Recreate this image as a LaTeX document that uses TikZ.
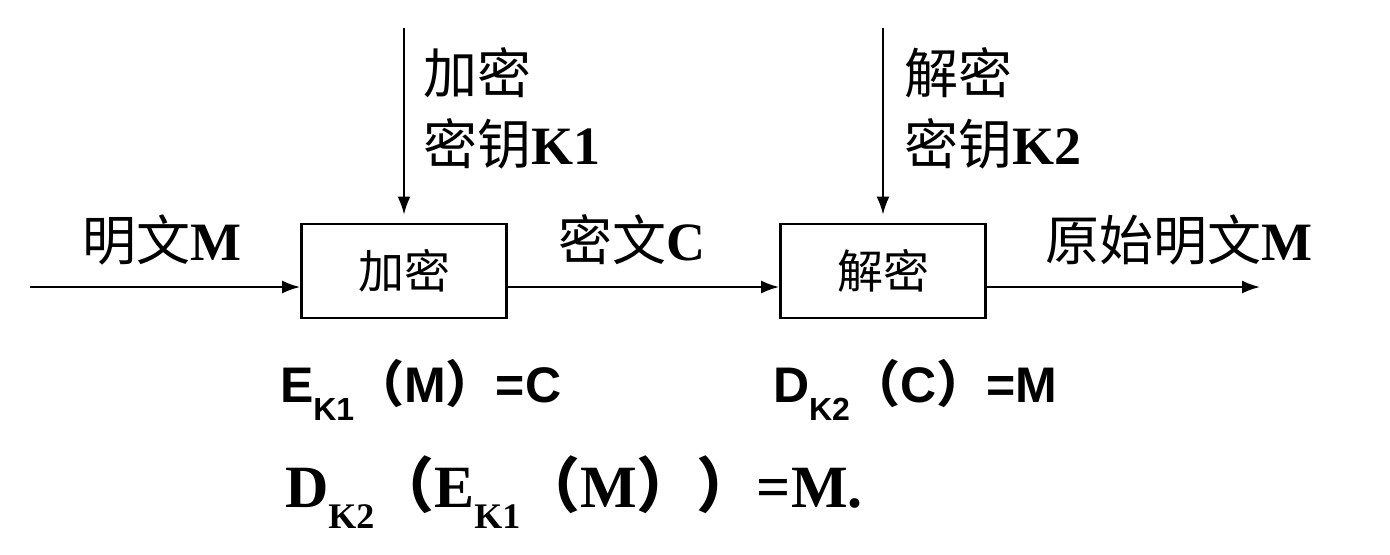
\documentclass[tikz,border=0pt]{standalone}
\usepackage{fontspec}
\setmainfont{Liberation Serif}
\newfontfamily\cjk{Noto Sans CJK SC}
\newfontfamily\eqsans{Liberation Sans}
\usetikzlibrary{arrows.meta}

% lowered index such as K1, K2
\newcommand{\lowtext}[2]{\raisebox{-0.35em}{\fontsize{#1}{#1}\selectfont #2}}
\newcommand{\lp}{{\cjk （}}
\newcommand{\rp}{{\cjk ）}}

\begin{document}
\begin{tikzpicture}[x=0.5pt, y=-0.5pt, line width=1pt, >={Latex[length=9pt,width=6.5pt]},
	box/.style = {draw, line width=1.4pt, minimum width=102.5pt, minimum height=47pt, inner sep=0pt, font=\cjk\fontsize{23}{23}\selectfont},
	lab/.style = {inner sep=0pt, align=left, font=\fontsize{27}{35.5}\selectfont},
	eqa/.style = {inner sep=0pt, font=\eqsans\bfseries\fontsize{25}{25}\selectfont},
	eqb/.style = {inner sep=0pt, font=\bfseries\fontsize{30}{30}\selectfont}]

		\useasboundingbox (0,0) rectangle (1390,554);

		% blocks
		\node[box] (enc) at (404,271) {加密};
		\node[box] (dec) at (883,271) {解密};

		\coordinate (in) at (30,287);
		\coordinate (out) at (1260,287);
		\coordinate (k1) at (404,28);
		\coordinate (k2) at (883,28);

		\draw[->] (in) -- (in -| enc.west);
		\draw[->] (enc.east |- in) -- (in -| dec.west);
		\draw[->] (dec.east |- in) -- (out);
		\draw[->] (k1) -- ([yshift=4pt]enc.north);
		\draw[->] (k2) -- ([yshift=4pt]dec.north);

		% labels
		\node[lab, anchor=north west] (key1) at (422,47) {{\cjk 加密}\\{\cjk 密钥}\textbf{K1}};
		\node[lab, anchor=north west] (key2) at (903,47) {{\cjk 解密}\\{\cjk 密钥}\textbf{K2}};
		\node[lab] (plain) at (162,240) {{\cjk 明文}\textbf{M}};
		\node[lab] (cipher) at (632,240) {{\cjk 密文}\textbf{C}};
		\node[lab] (orig) at (1179,240) {{\cjk 原始明文}\textbf{M}};

		% formulas
		\node[eqa, anchor=west] (fenc) at (279,390) {E\lowtext{16}{K1}\lp M\rp =C};
		\node[eqa, anchor=west] (fdec) at (772,390) {D\lowtext{16}{K2}\lp C\rp =M};
		\node[eqb, anchor=west] (fall) at (284,492) {D\lowtext{18}{K2}\lp E\lowtext{18}{K1}\lp M\rp\rp =M.};
	\end{tikzpicture}
\end{document}
